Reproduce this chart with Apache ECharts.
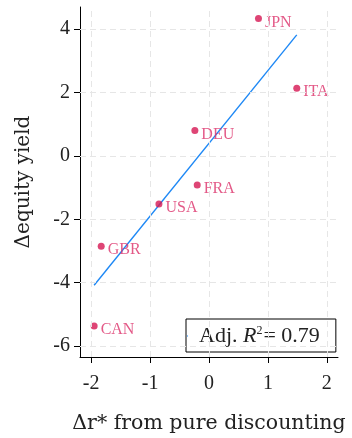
<!DOCTYPE html>
<html>
<head>
<meta charset="utf-8">
<script src="https://cdn.jsdelivr.net/npm/echarts@6/dist/echarts.min.js"></script>
<style>html,body{margin:0;padding:0;background:#fff;}#c{width:352px;height:438px;}</style>
</head>
<body>
<div id="c"></div>
<script>
const countries = ['JPN', 'ITA', 'DEU', 'FRA', 'USA', 'GBR', 'CAN'];
const rStar = [0.84, 1.49, -0.24, -0.20, -0.85, -1.83, -1.95];
const equityYield = [4.33, 2.13, 0.80, -0.92, -1.52, -2.85, -5.36];
const fitX = [-1.95, 1.49];
const fitY = [-4.08, 3.81];
const xTicks = [-2, -1, 0, 1, 2];
const yTicks = [-6, -4, -2, 0, 2, 4];
const r2Text = '0.79';

const FONT = '"Liberation Serif", "Times New Roman", serif';
const TFONT = '"DejaVu Serif", serif';
const chart = echarts.init(document.getElementById('c'), null, {renderer: 'canvas'});

const gridLineStyle = {color: '#e6e6e6', width: 1, type: [6, 4]};
const gridMarks = [].concat(
  xTicks.map(v => ({xAxis: v})),
  yTicks.map(v => ({yAxis: v}))
);

chart.setOption({
  animation: false,
  backgroundColor: '#fff',
  grid: {left: 80, right: 14, top: 7, bottom: 81, containLabel: false, outerBoundsMode: 'none'},
  xAxis: {
    type: 'value', min: -2.19, max: 2.19,
    name: 'Δr* from pure discounting',
    nameLocation: 'middle', nameGap: 56,
    nameTextStyle: {fontFamily: TFONT, fontSize: 20.5, color: '#222'},
    axisLine: {show: true, onZero: false, lineStyle: {color: '#000', width: 1}},
    axisTick: {show: true, length: 6, customValues: xTicks, lineStyle: {color: '#000'}},
    axisLabel: {customValues: xTicks, fontFamily: FONT, fontSize: 20, color: '#222', margin: 17},
    splitLine: {show: false}
  },
  yAxis: {
    type: 'value', min: -6.34, max: 4.69,
    name: 'Δequity yield',
    nameLocation: 'middle', nameGap: 46,
    nameTextStyle: {fontFamily: TFONT, fontSize: 20, color: '#222'},
    axisLine: {show: true, onZero: false, lineStyle: {color: '#000', width: 1}},
    axisTick: {show: true, length: 6, customValues: yTicks, lineStyle: {color: '#000'}},
    axisLabel: {customValues: yTicks, fontFamily: FONT, fontSize: 20, color: '#222', margin: 10},
    splitLine: {show: false}
  },
  legend: {
    show: true,
    left: 186, top: 319,
    data: [{name: 'fit', icon: 'rect'}],
    itemWidth: 1, itemHeight: 1, itemGap: 0,
    padding: [6, 16, 5, 1],
    backgroundColor: '#fff',
    borderColor: '#000', borderWidth: 1, borderRadius: 0,
    selectedMode: false,
    formatter: () => 'Adj. {i|R}{s|2}{t|= ' + r2Text + '}',
    textStyle: {
      fontFamily: FONT, fontSize: 22, color: '#222', padding: [0, 0, 0, 6],
      rich: {
        i: {fontFamily: FONT, fontSize: 22, fontStyle: 'italic', color: '#222', verticalAlign: 'bottom', lineHeight: 22},
        s: {fontFamily: FONT, fontSize: 12, color: '#222', verticalAlign: 'top', lineHeight: 22, padding: [0, 1, 0, 0]},
        t: {fontFamily: FONT, fontSize: 22, color: '#222', verticalAlign: 'bottom', lineHeight: 22}
      }
    }
  },
  series: [
    {
      name: 'grid', type: 'line', data: [], silent: true,
      markLine: {silent: true, symbol: 'none', label: {show: false},
        lineStyle: gridLineStyle, data: gridMarks, animation: false},
      z: 0
    },
    {
      name: 'fit', type: 'line',
      data: fitX.map((x, i) => [x, fitY[i]]),
      showSymbol: false, symbol: 'none',
      lineStyle: {color: '#1e88f5', width: 1.4},
      itemStyle: {color: '#1e88f5'},
      z: 3
    },
    {
      name: 'countries', type: 'scatter',
      data: rStar.map((x, i) => ({value: [x, equityYield[i]], name: countries[i]})),
      symbolSize: 7,
      itemStyle: {color: '#d61653'},
      label: {show: true, position: 'right', distance: 3, offset: [0, 4],
        formatter: p => p.name, fontFamily: FONT, fontSize: 16, color: '#dc2f69'},
      z: 4
    }
  ]
});
</script>
</body>
</html>
